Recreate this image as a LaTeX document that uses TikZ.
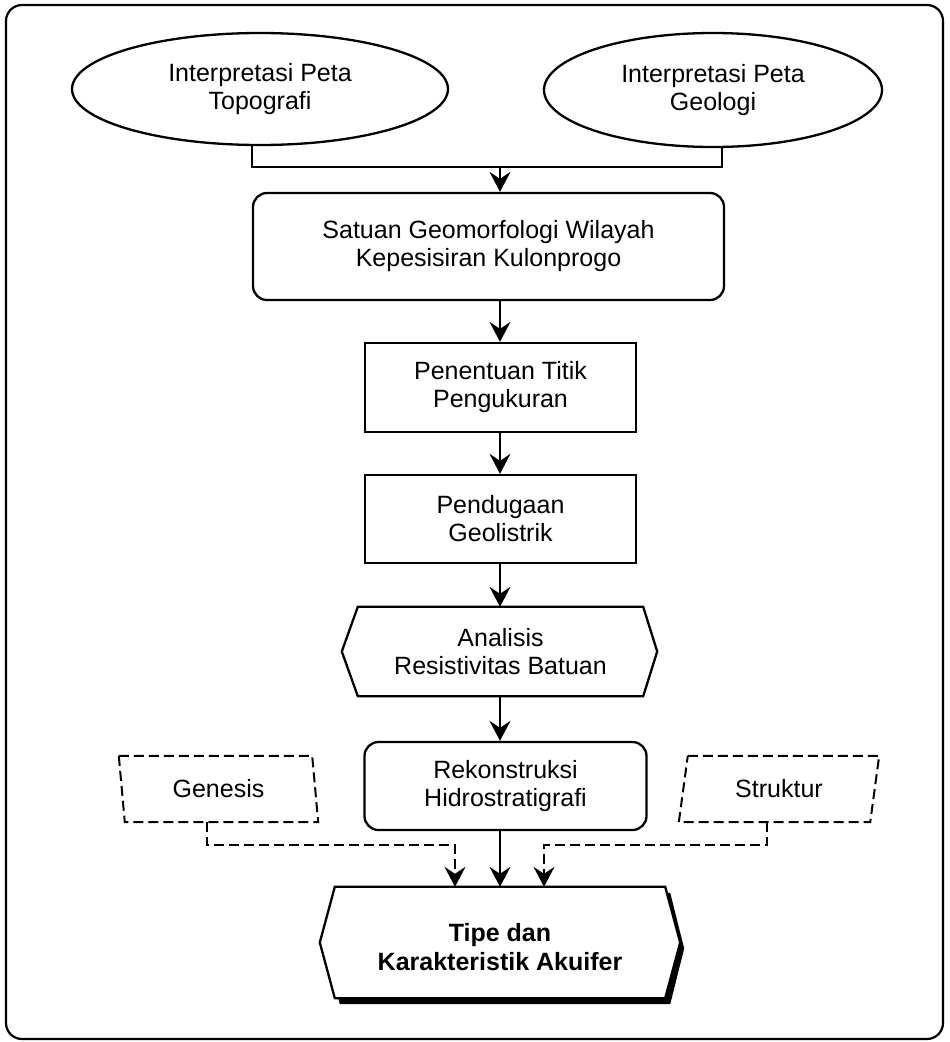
\documentclass[tikz,border=0pt]{standalone}
\usepackage{fontspec}
\setmainfont{Liberation Sans}
\usetikzlibrary{shapes.geometric,arrows.meta,calc}
\begin{document}
\begin{tikzpicture}[x=1pt,y=-1pt,
  every node/.style={font=\fontsize{25}{28}\selectfont, align=center, inner sep=0pt},
  shapeline/.style={line width=2.3pt, draw=black},
  ell/.style={shapeline, ellipse},
  rbox/.style={shapeline, rectangle, rounded corners=14pt},
  pbox/.style={shapeline, rectangle},
  dshape/.style={line width=2pt, dash pattern=on 10pt off 5pt},
  arr/.style={line width=2pt, -{Stealth[length=20pt,width=21pt,inset=7pt]}},
  darr/.style={line width=2pt, dash pattern=on 10pt off 5pt, -{Stealth[length=20pt,width=21pt,inset=7pt]}}
]
\useasboundingbox (0,0) rectangle (950,1042);
% outer frame
\draw[line width=2.2pt, rounded corners=16pt] (6,5) rectangle (943,1039);

% nodes
\node[ell, minimum width=376pt, minimum height=112pt] (e1) at (260,89) {\raisebox{2pt}{\shortstack{Interpretasi Peta\\[2pt]Topografi}}};
\node[ell, minimum width=338pt, minimum height=114pt] (e2) at (713,90) {\raisebox{-4pt}{\shortstack{Interpretasi Peta\\[2pt]Geologi}}};
\node[rbox, minimum width=471pt, minimum height=107pt] (sat) at (488.5,246.5) {Satuan Geomorfologi Wilayah\\Kepesisiran Kulonprogo};
\node[pbox, minimum width=271pt, minimum height=89pt] (pen) at (500.5,387.5) {Penentuan Titik\\Pengukuran};
\node[pbox, minimum width=271pt, minimum height=88pt] (pend) at (500.5,519) {Pendugaan\\Geolistrik};
\node[minimum width=285pt, minimum height=89pt] (ana) at (500.5,651.5) {Analisis\\Resistivitas Batuan};
\draw[shapeline] (ana.north west) -- (ana.north east) -- ([xshift=14pt]ana.east) -- (ana.south east) -- (ana.south west) -- ([xshift=-16pt]ana.west) -- cycle;
\node[rbox, minimum width=282pt, minimum height=88pt] (rek) at (505.5,786) {Rekonstruksi\\Hidrostratigrafi};
\node[minimum width=193pt, minimum height=66pt] (gen) at (218.5,789) {Genesis};
\draw[dshape] ([xshift=-3pt]gen.north west) -- ([xshift=-3pt]gen.north east) -- ([xshift=3pt]gen.south east) -- ([xshift=3pt]gen.south west) -- cycle;
\node[minimum width=191pt, minimum height=66pt] (str) at (779,789) {Struktur};
\draw[dshape] ([xshift=4.5pt]str.north west) -- ([xshift=4.5pt]str.north east) -- ([xshift=-4.5pt]str.south east) -- ([xshift=-4.5pt]str.south west) -- cycle;

% final shape with shadow
\node[minimum width=330pt, minimum height=111pt] (fin) at (500,942.5) {};
\fill[black] ([shift={(5,6)}]fin.north west) -- ([shift={(5,6)}]fin.north east) -- ([shift={(19,6)}]fin.east) -- ([shift={(5,6)}]fin.south east) -- ([shift={(5,6)}]fin.south west) -- ([shift={(-10,6)}]fin.west) -- cycle;
\draw[shapeline, fill=white] (fin.north west) -- (fin.north east) -- ([xshift=15pt]fin.east) -- (fin.south east) -- (fin.south west) -- ([xshift=-15pt]fin.west) -- cycle;
\node[font=\fontsize{25}{29}\selectfont\bfseries] (fintext) at ([yshift=-5pt]fin.center) {Tipe dan\\Karakteristik Akuifer};

% connectors
\coordinate (j) at (500,167);
\coordinate (gk) at (455,845);
\coordinate (sk) at (544,845);
\draw[line width=2pt] ([xshift=-8pt]e1.south) |- (j) -| ([xshift=9pt]e2.south);
\draw[arr] (j) -- (sat.north -| j);
\draw[arr] (sat.south -| j) -- (pen.north -| j);
\draw[arr] (pen.south -| j) -- (pend.north -| j);
\draw[arr] (pend.south -| j) -- (ana.north -| j);
\draw[arr] (ana.south -| j) -- (rek.north -| j);
\draw[arr] (rek.south -| j) -- (fin.north -| j);
\draw[darr] ([xshift=-11.5pt]gen.south) |- (gk) -- (fin.north -| gk);
\draw[darr] ([xshift=-12pt]str.south) |- (sk) -- (fin.north -| sk);
\end{tikzpicture}
\end{document}
